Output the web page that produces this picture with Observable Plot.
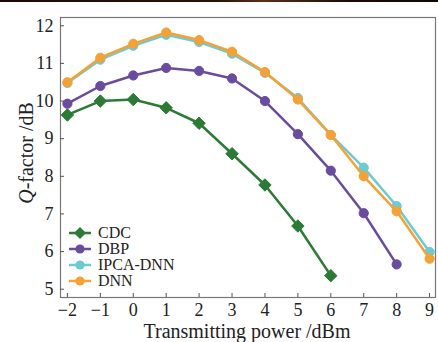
<!DOCTYPE html>
<html>
<head>
<meta charset="utf-8">
<script src="https://cdn.jsdelivr.net/npm/d3@7"></script>
<script src="https://cdn.jsdelivr.net/npm/@observablehq/plot@0.6"></script>
<style>
  html, body { margin: 0; padding: 0; background: #fff; }
  #wrap { position: relative; width: 438px; height: 342px; overflow: hidden; }
  #topband { position: absolute; left: 0; top: 0; width: 438px; height: 2px;
    background: linear-gradient(90deg, #1a0a05, #2a1208 50%, #5a3018 60%, #1a0a05 80%, #120604); }
  #legend { position: absolute; left: 68px; top: 225px; font-family: "Liberation Serif", "DejaVu Serif", serif; font-size: 16px; color: #222; }
  #legend .row { display: flex; align-items: center; height: 16px; }
  #legend svg { margin-right: 6px; }
  #chart svg text { font-family: "Liberation Serif", "DejaVu Serif", serif; }
</style>
</head>
<body>
<div id="wrap">
  <div id="chart"></div>
  <div id="legend"></div>
  <div id="topband"></div>
</div>
<script>
const power = [-2, -1, 0, 1, 2, 3, 4, 5, 6, 7, 8, 9];
const seriesNames = ["CDC", "DBP", "IPCA-DNN", "DNN"];
const cdc  = [9.63, 10.0, 10.04, 9.82, 9.41, 8.6, 7.77, 6.68, 5.36];
const dbp  = [9.93, 10.4, 10.68, 10.88, 10.8, 10.6, 10.0, 9.12, 8.15, 7.02, 5.66];
const ipca = [10.48, 11.1, 11.47, 11.76, 11.57, 11.26, 10.75, 10.08, 9.1, 8.23, 7.21, 5.99];
const dnn  = [10.5, 11.15, 11.52, 11.82, 11.62, 11.31, 10.77, 10.04, 9.1, 8.0, 7.07, 5.81];
const xTicks = [-2, -1, 0, 1, 2, 3, 4, 5, 6, 7, 8, 9];
const yTicks = [5, 6, 7, 8, 9, 10, 11, 12];
const colors = {"CDC": "#2b7a35", "DBP": "#6a4c9e", "IPCA-DNN": "#6ccad3", "DNN": "#f4a236"};
const symbols = {"CDC": "diamond2", "DBP": "circle", "IPCA-DNN": "circle", "DNN": "circle"};

const allVals = [cdc, dbp, ipca, dnn];
const data = [];
seriesNames.forEach((s, i) => allVals[i].forEach((v, j) => data.push({series: s, x: power[j], y: v})));
const order = ["CDC", "DBP", "IPCA-DNN", "DNN"];

const font = '"Liberation Serif", "DejaVu Serif", serif';
const marks = [Plot.frame({stroke: "#777", strokeWidth: 1.2})];
order.forEach(s => {
  const d = data.filter(r => r.series === s);
  marks.push(Plot.line(d, {x: "x", y: "y", stroke: colors[s], strokeWidth: 2.5}));
  marks.push(Plot.dot(d, {x: "x", y: "y", fill: colors[s], stroke: colors[s], strokeWidth: 1,
    symbol: symbols[s], r: s === "CDC" ? 5.6 : 4.6}));
});
marks.push(Plot.axisX(xTicks, {tickSize: -4, text: null, stroke: "#555"}));
marks.push(Plot.axisX(xTicks, {tickSize: 0, tickPadding: 6, fontSize: 18, fill: "#222", label: null, tickFormat: d => d < 0 ? "\u2212" + Math.abs(d) : String(d)}));
marks.push(Plot.axisY(yTicks, {tickSize: -4, text: null, stroke: "#555"}));
marks.push(Plot.axisY(yTicks, {tickSize: 0, tickPadding: 7, fontSize: 18, fill: "#222", label: null}));

const chart = Plot.plot({
  width: 438, height: 342,
  marginLeft: 60, marginRight: 3, marginTop: 17, marginBottom: 45,
  style: {background: "white", color: "#222"},
  x: {domain: [-2.21, 9.18], label: null},
  y: {domain: [4.78, 12.22], label: null},
  marks
});
document.getElementById("chart").appendChild(chart);

const svg = d3.select(chart);
svg.append("text")
  .attr("x", 247).attr("y", 338)
  .attr("text-anchor", "middle")
  .attr("font-size", 20).attr("fill", "#222")
  .text("Transmitting power /dBm");
const yl = svg.append("text")
  .attr("transform", "translate(33,153) rotate(-90)")
  .attr("text-anchor", "middle")
  .attr("font-size", 20).attr("fill", "#222");
yl.append("tspan").attr("font-style", "italic").text("Q");
yl.append("tspan").text("-factor /dB");
svg.selectAll("text").attr("font-family", font);

const legend = d3.select("#legend");
order.forEach(s => {
  const row = legend.append("div").attr("class", "row");
  const sv = row.append("svg").attr("width", 24).attr("height", 14);
  sv.append("line").attr("x1", 1).attr("x2", 23).attr("y1", 7).attr("y2", 7)
    .attr("stroke", colors[s]).attr("stroke-width", 2.5);
  if (symbols[s] === "diamond2") {
    sv.append("path").attr("d", "M12,1L18,7L12,13L6,7Z").attr("fill", colors[s]);
  } else {
    sv.append("circle").attr("cx", 12).attr("cy", 7).attr("r", 4.6).attr("fill", colors[s]);
  }
  row.append("span").text(s);
});
</script>
</body>
</html>
